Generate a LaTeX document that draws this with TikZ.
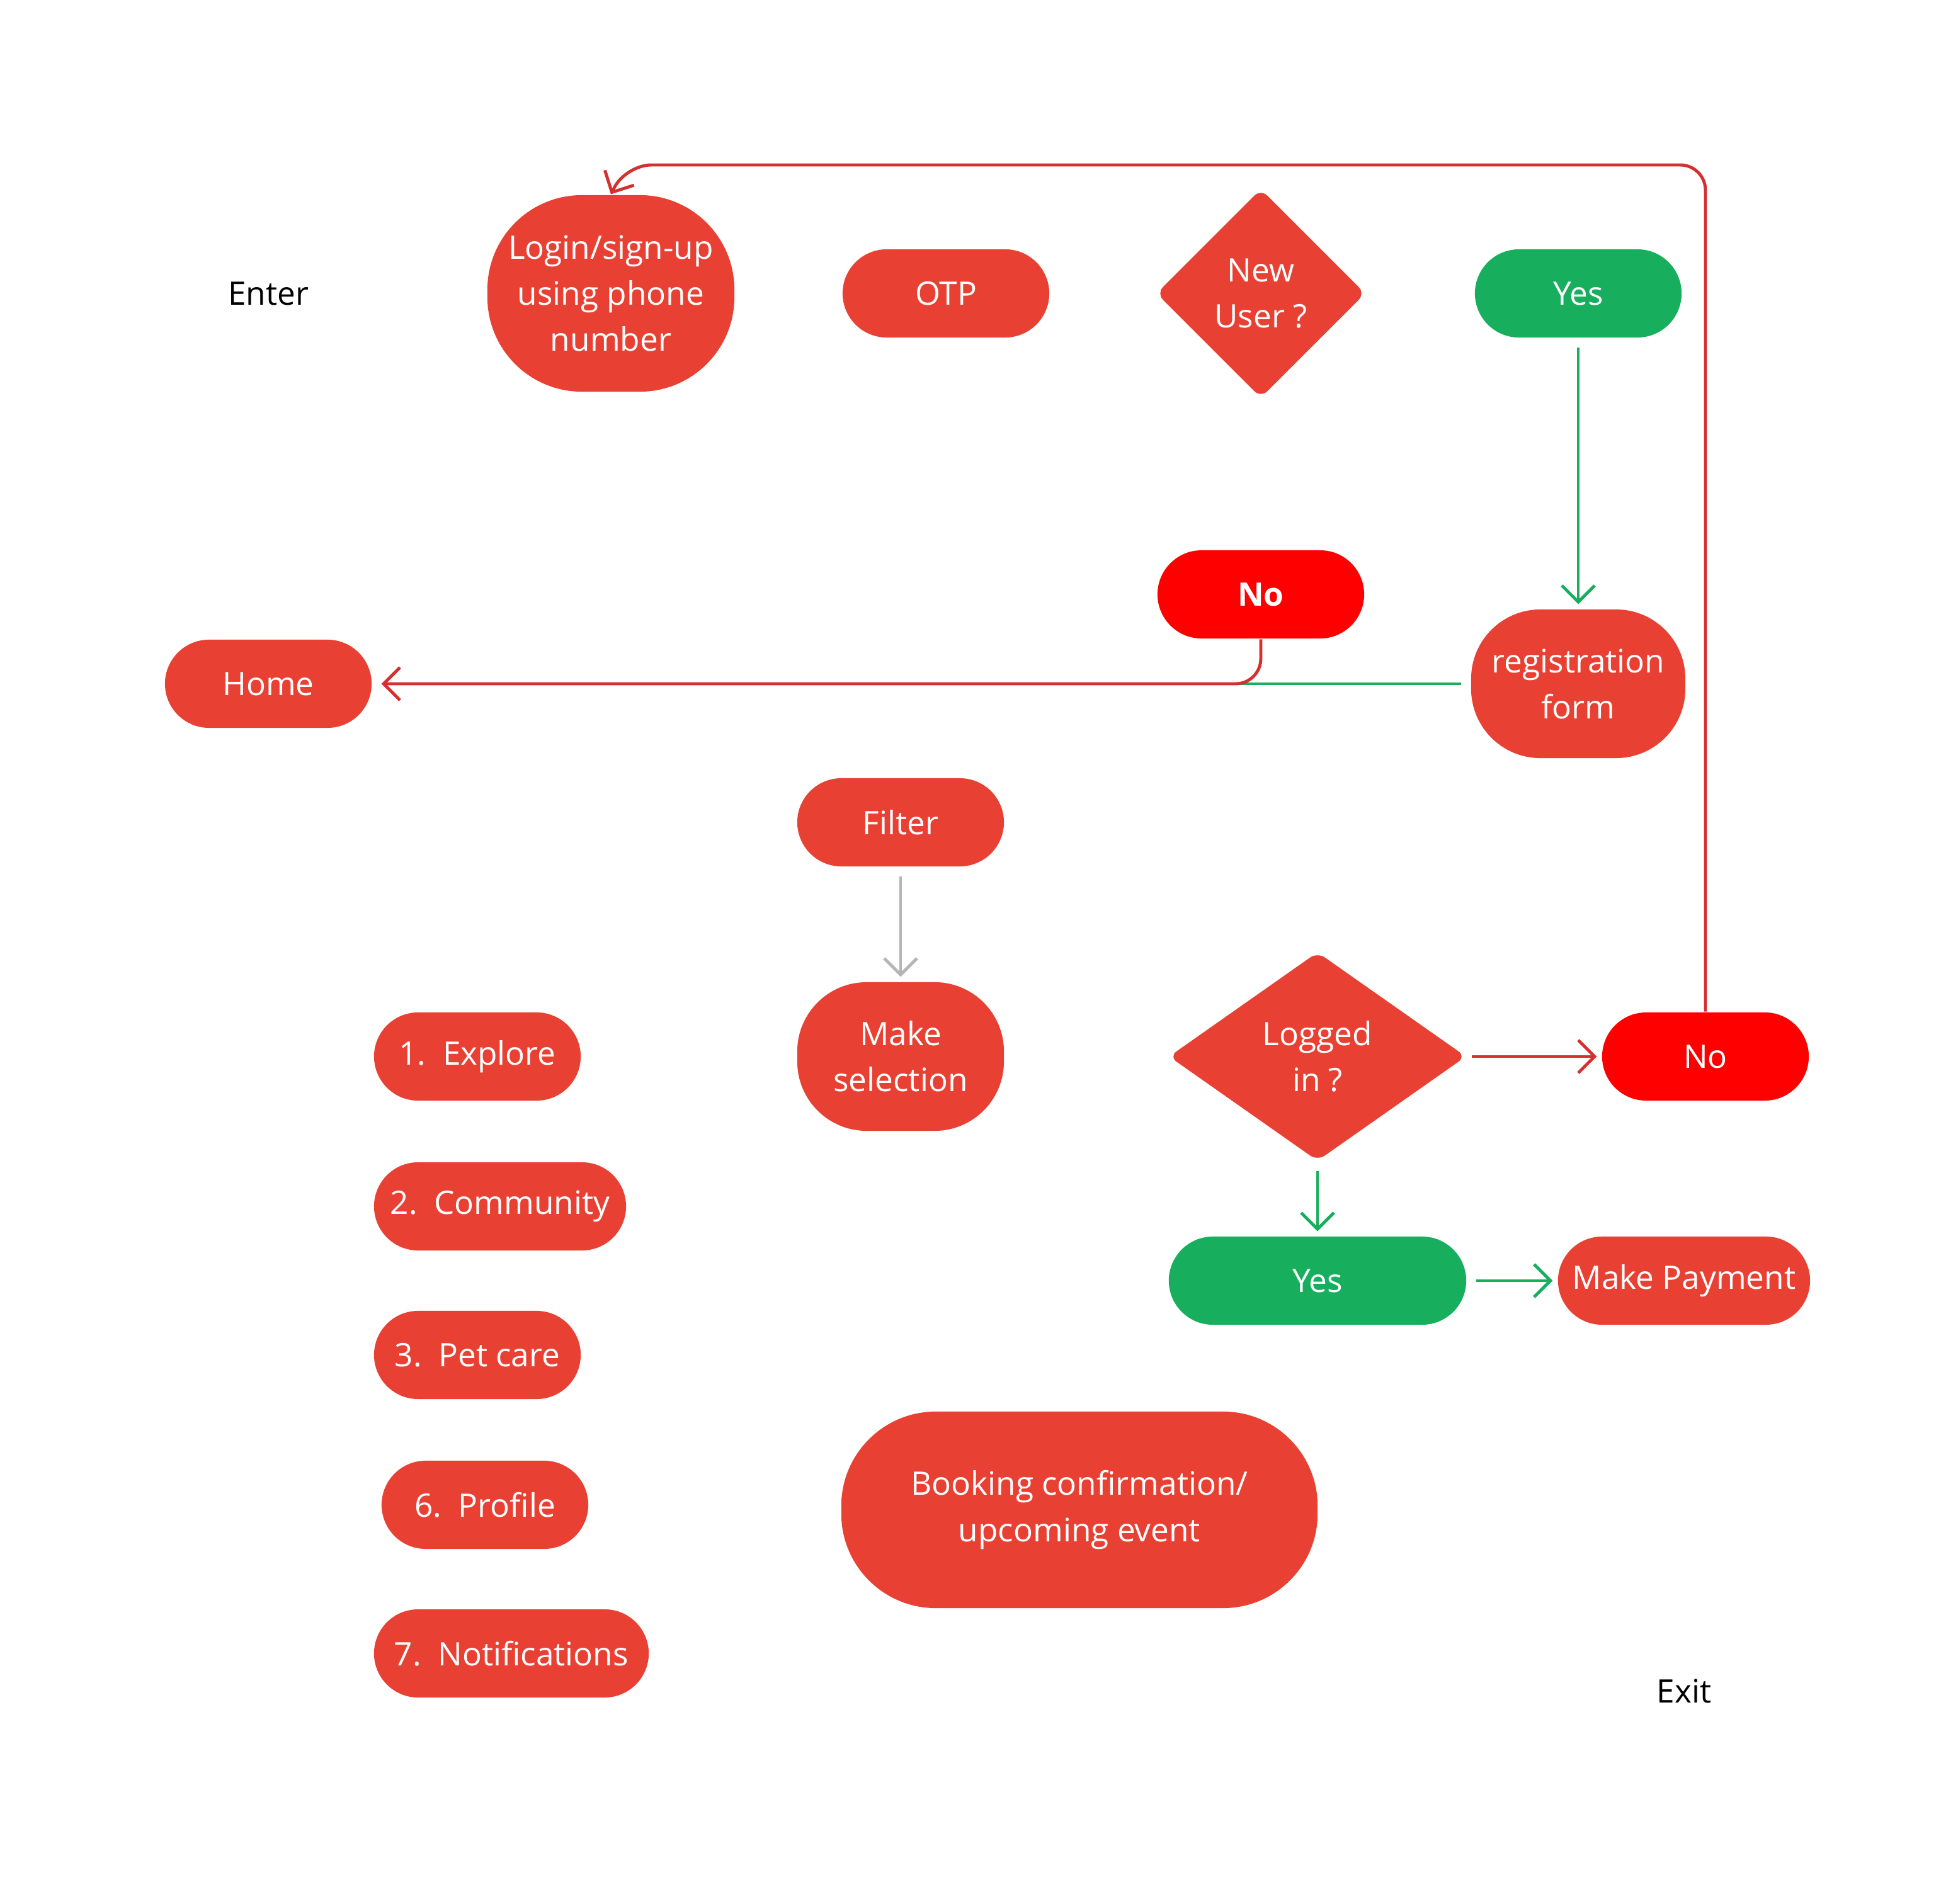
\documentclass[tikz,border=0pt]{standalone}
\usepackage{fontspec}
\setmainfont{Open Sans}
\usetikzlibrary{arrows.meta,shapes.geometric}
\definecolor{boxred}{HTML}{E84134}
\definecolor{purered}{HTML}{FF0000}
\definecolor{boxgreen}{HTML}{17AE5E}
\definecolor{linered}{HTML}{D3302F}
\definecolor{linegray}{HTML}{B5B5B5}
\begin{document}
\begin{tikzpicture}
[x=0.01cm,y=-0.01cm,font=\fontsize{7.3}{10.4}\selectfont,
 box/.style={rectangle,rounded corners=0.35cm,fill=boxred,text=white,minimum height=0.7cm,align=center,inner sep=0pt},
 blob/.style={box,rounded corners=0.55cm},
 dia/.style={diamond,fill=boxred,text=white,align=center,inner sep=0pt},
 ok/.style={box,fill=boxgreen},
 no/.style={box,fill=purered},
 link/.style={line width=0.7pt,-{Straight Barb[length=1.3mm,width=2.6mm]}}]
\useasboundingbox (0,0) rectangle (1541,1512);
\node (enter) at (213,233) {Enter};
\node[blob,minimum width=1.96cm,minimum height=1.56cm,rounded corners=0.75cm] (login) at (485,233) {Login/sign-up\\using phone\\number};
\node[box,minimum width=1.64cm] (otp) at (751,233) {OTP};
\node[dia,minimum width=1.66cm,minimum height=1.66cm,rounded corners=2pt] (new) at (1001,233) {New\\User ?};
\node[ok,minimum width=1.64cm] (yes1) at (1253,233) {Yes};
\node[no,minimum width=1.64cm,font=\fontsize{7.3}{10.4}\selectfont\bfseries] (no1) at (1001,472) {No};
\node[blob,minimum width=1.7cm,minimum height=1.18cm] (reg) at (1253,543) {registration\\form};
\node[box,minimum width=1.64cm] (home) at (213,543) {Home};
\node[box,minimum width=1.64cm] (filter) at (715,653) {Filter};
\node[blob,minimum width=1.64cm,minimum height=1.18cm] (select) at (715,839) {Make\\selection};
\node[dia,minimum width=2.36cm,minimum height=1.66cm,aspect=1.42,rounded corners=2pt] (logged) at (1046,839) {Logged\\in ?};
\node[no,minimum width=1.64cm] (no2) at (1354,839) {No};
\node[ok,minimum width=2.36cm] (yes2) at (1046,1017) {Yes};
\node[box,minimum width=2cm] (pay) at (1337,1017) {Make Payment};
\node[box,minimum width=1.64cm] (explore) at (379,839) {1.~~Explore};
\node[box,minimum width=2cm] (community) at (397,958) {2.~~Community};
\node[box,minimum width=1.64cm] (petcare) at (379,1076) {3.~~Pet care};
\node[box,minimum width=1.64cm] (profile) at (385,1195) {6.~~Profile};
\node[box,minimum width=2.18cm] (notif) at (406,1313) {7.~~Notifications};
\node[blob,minimum width=3.78cm,minimum height=1.56cm,rounded corners=0.75cm] (booking) at (857,1199) {Booking confirmation/\\upcoming event};
\node (exit) at (1337,1343) {Exit};
\coordinate (turn) at (985,543);
\draw[link,linered,rounded corners=0.2cm] (no2.north) |- (497,131) -- (login.north);
\draw[link,boxgreen,shorten <=2pt,shorten >=1pt] (yes1) -- (reg);
\draw[line width=0.7pt,boxgreen,shorten <=2pt] (reg.west) -- (turn);
\draw[link,linered,rounded corners=0.2cm,shorten >=2pt] (no1.south) |- (home.east);
\draw[link,linegray,shorten <=2pt,shorten >=1pt] (filter) -- (select);
\draw[link,linered,shorten <=1pt,shorten >=1pt] (logged) -- (no2);
\draw[link,boxgreen,shorten <=2pt,shorten >=1pt] (logged) -- (yes2);
\draw[link,boxgreen,shorten <=2pt,shorten >=1pt] (yes2) -- (pay);
\end{tikzpicture}
\end{document}
